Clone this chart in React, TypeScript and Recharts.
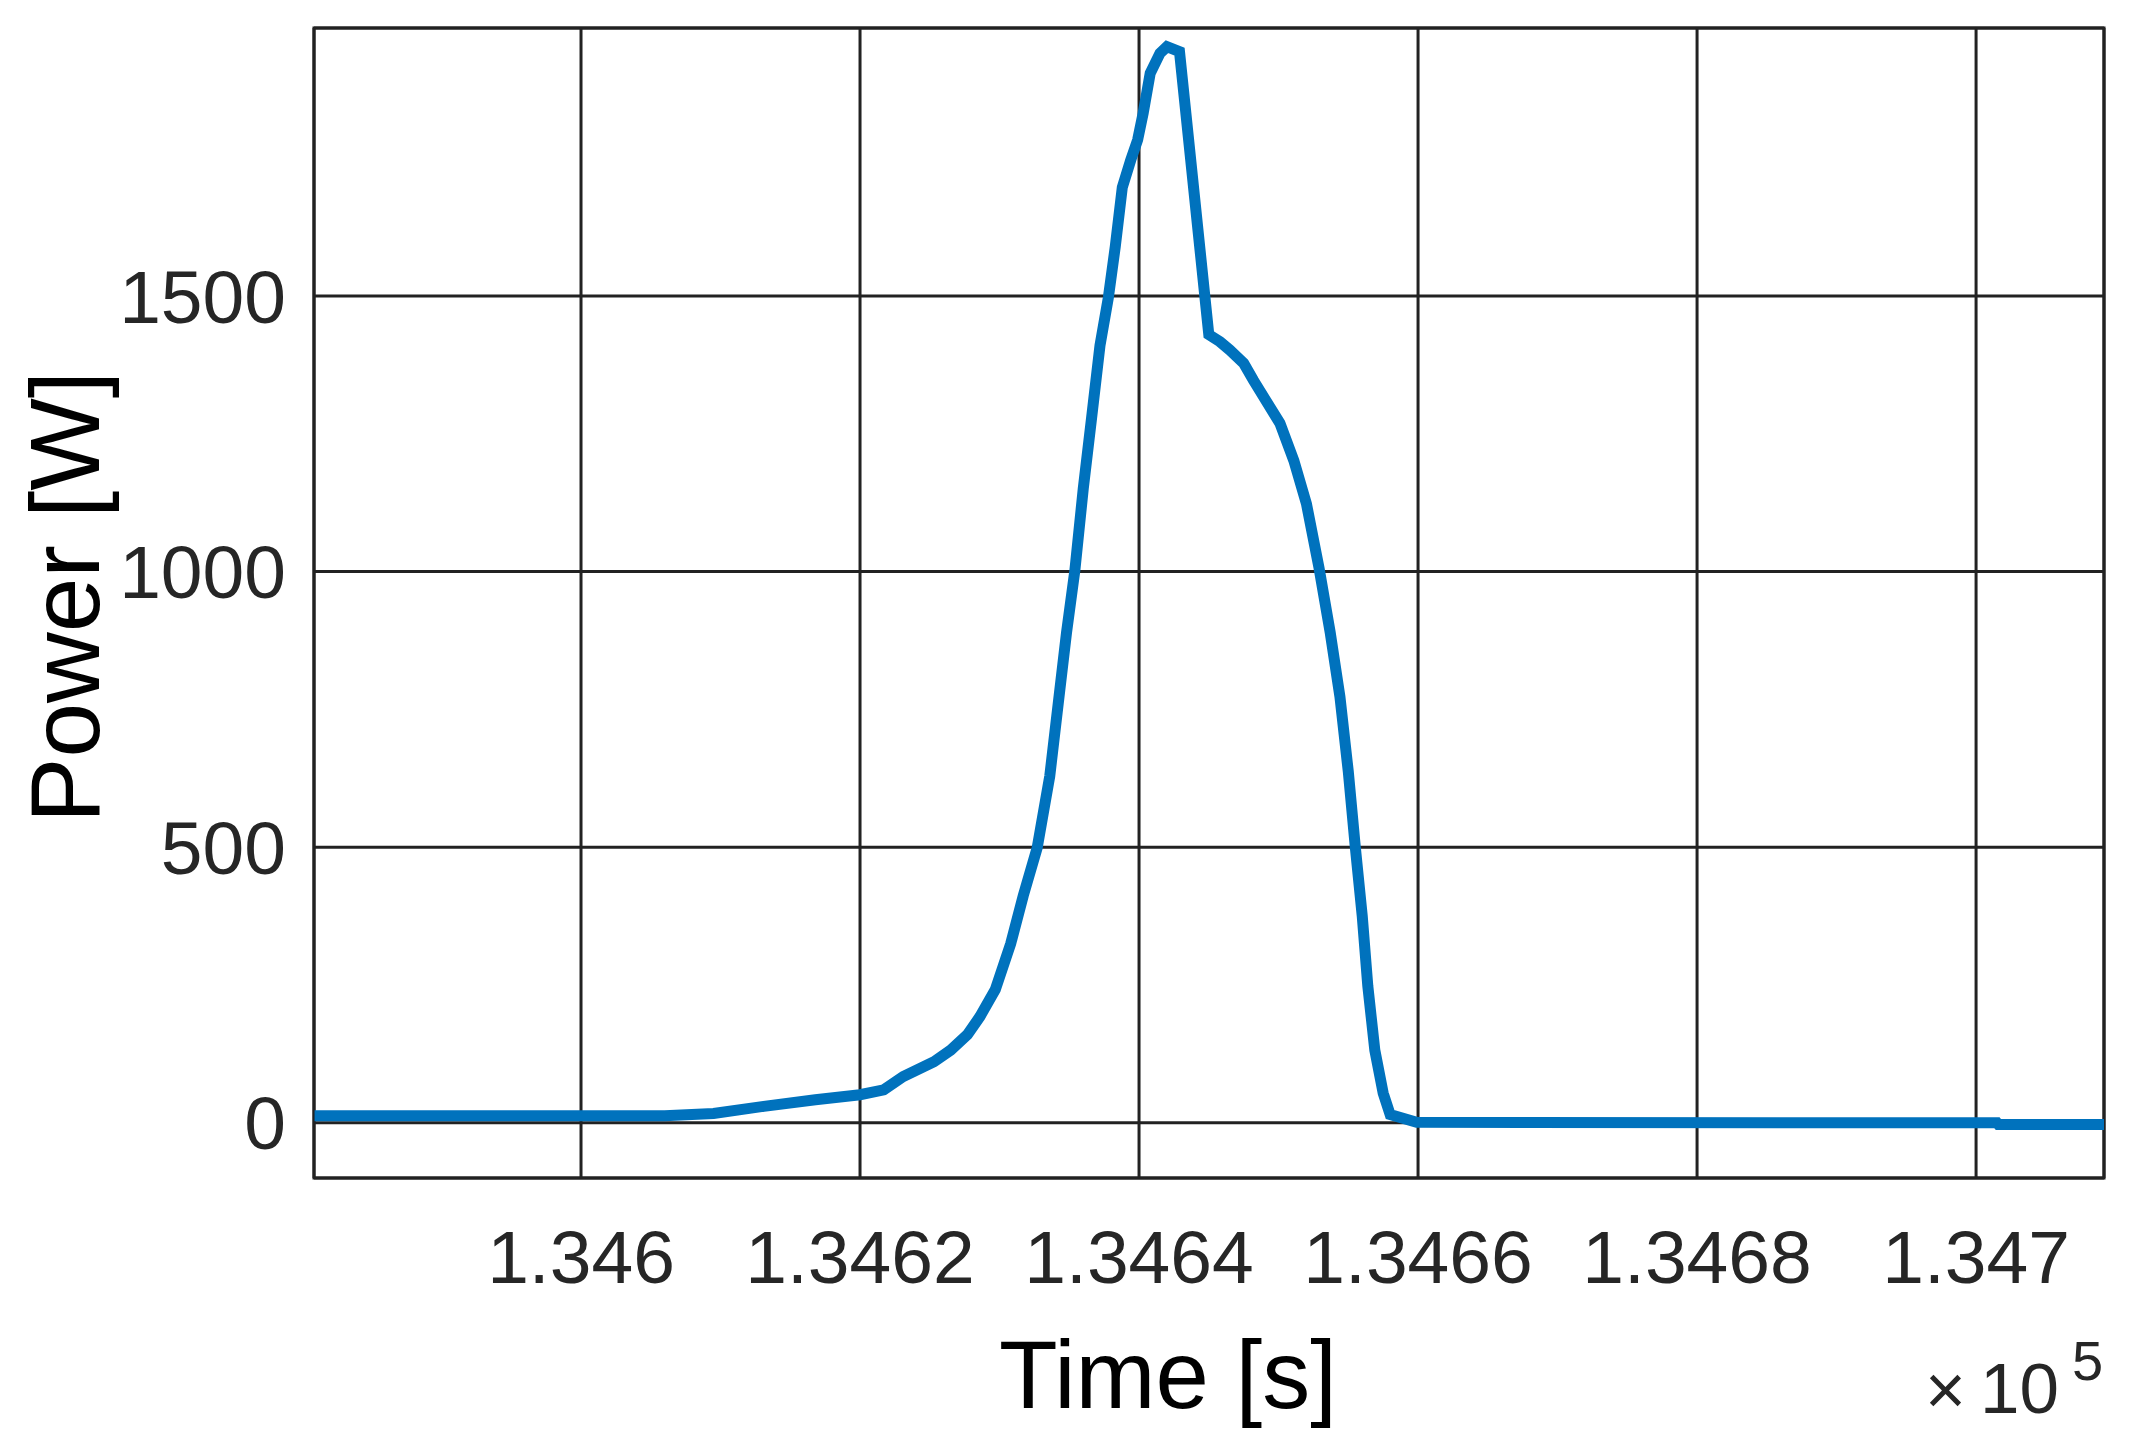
// Power trace around t = 1.3464e5 s, MATLAB-style axes with full grid
import { LineChart, Line, XAxis, YAxis, CartesianGrid, ReferenceArea } from 'recharts';

const FONT = '"Liberation Sans", Arial, sans-serif';

// time [s]
const time = [
  134580.9, 134606.0, 134609.5, 134613.1, 134616.8, 134620.0, 134621.7, 134623.1, 134625.3,
  134626.5, 134627.7, 134628.6, 134629.7, 134630.8, 134631.7, 134632.7, 134633.6, 134634.2,
  134634.8, 134635.4, 134636.0, 134636.6, 134637.2, 134637.8, 134638.3, 134638.8, 134639.4,
  134639.9, 134640.3, 134640.8, 134641.5, 134642.0, 134642.9, 134645.0, 134645.8, 134646.5,
  134647.5, 134648.2, 134650.1, 134651.1, 134652.0, 134652.9, 134653.7, 134654.4, 134655.0,
  134655.5, 134656.0, 134656.4, 134656.9, 134657.5, 134658.0, 134659.9, 134701.5, 134701.6,
  134709.2,
];

// power [W]
const power = [
  13, 13, 17, 30, 42, 51, 60, 84, 111,
  132, 160, 193, 242, 325, 412, 499, 629, 759,
  889, 1002, 1150, 1279, 1410, 1497, 1590, 1697, 1746,
  1783, 1832, 1904, 1940, 1952, 1943, 1430, 1417, 1402,
  1378, 1347, 1269, 1201, 1123, 1007, 890, 773, 637,
  501, 375, 248, 132, 54, 15, 1, 0, -3,
  -3,
];

const xTicks = [134600, 134620, 134640, 134660, 134680, 134700];
const yTicks = [0, 500, 1000, 1500];
const X_MIN = 134580.86;
const X_MAX = 134709.17;
const Y_MIN = -100;
const Y_MAX = 1986;

const rows = time.map((t, i) => ({ t, p: power[i] }));

const fmtX = (v: number) => String(Number((v / 1e5).toFixed(4)));

const renderYLabel = (props: any) => {
  const vb = props.viewBox;
  const cx = vb.x + 65;
  const cy = vb.y + vb.height / 2 - 6;
  return (
    <text
      x={cx}
      y={cy}
      transform={`rotate(-90, ${cx}, ${cy})`}
      textAnchor="middle"
      dominantBaseline="central"
      fontSize={98}
      fontFamily={FONT}
      fill="#000"
    >
      Power [W]
    </text>
  );
};

const renderXLabel = (props: any) => {
  const vb = props.viewBox;
  const right = vb.x + vb.width;
  return (
    <g>
      <text x={vb.x + vb.width / 2 - 41} y={vb.y + 230} textAnchor="middle" fontSize={96} fontFamily={FONT} fill="#000">
        Time [s]
      </text>
      <text x={right - 179} y={vb.y + 236} fontSize={70} fontFamily={FONT} fill="#262626">
        ×
      </text>
      <text x={right - 124} y={vb.y + 235} fontSize={71} fontFamily={FONT} fill="#262626">
        10
      </text>
      <text x={right - 32} y={vb.y + 202} fontSize={56} fontFamily={FONT} fill="#262626">
        5
      </text>
    </g>
  );
};

export default function App() {
  return (
    <div style={{ position: 'absolute', left: 0, top: 0, width: 2133, height: 1451, background: '#fff' }}>
      <LineChart width={2133} height={1451} data={rows} margin={{ top: 28, right: 29, left: 0, bottom: 0 }}>
        <CartesianGrid stroke="#222" strokeWidth={3} />
        <XAxis
          dataKey="t"
          type="number"
          domain={[X_MIN, X_MAX]}
          ticks={xTicks}
          interval={0}
          allowDataOverflow
          height={273}
          tickSize={0}
          tickMargin={52}
          axisLine={false}
          tickLine={false}
          tickFormatter={fmtX}
          tick={{ fontSize: 75, fill: '#262626', fontFamily: FONT }}
          label={renderXLabel}
        />
        <YAxis
          type="number"
          domain={[Y_MIN, Y_MAX]}
          ticks={yTicks}
          interval={0}
          allowDataOverflow
          width={314}
          tickSize={0}
          tickMargin={28}
          axisLine={false}
          tickLine={false}
          tick={{ fontSize: 75, fill: '#262626', fontFamily: FONT }}
          label={renderYLabel}
        />
        <ReferenceArea
          x1={X_MIN}
          x2={X_MAX}
          y1={Y_MIN}
          y2={Y_MAX}
          fill="none"
          stroke="#222"
          strokeWidth={3}
          ifOverflow="visible"
        />
        <Line
          type="linear"
          dataKey="p"
          stroke="#0072BD"
          strokeWidth={11}
          dot={false}
          isAnimationActive={false}
        />
      </LineChart>
    </div>
  );
}
